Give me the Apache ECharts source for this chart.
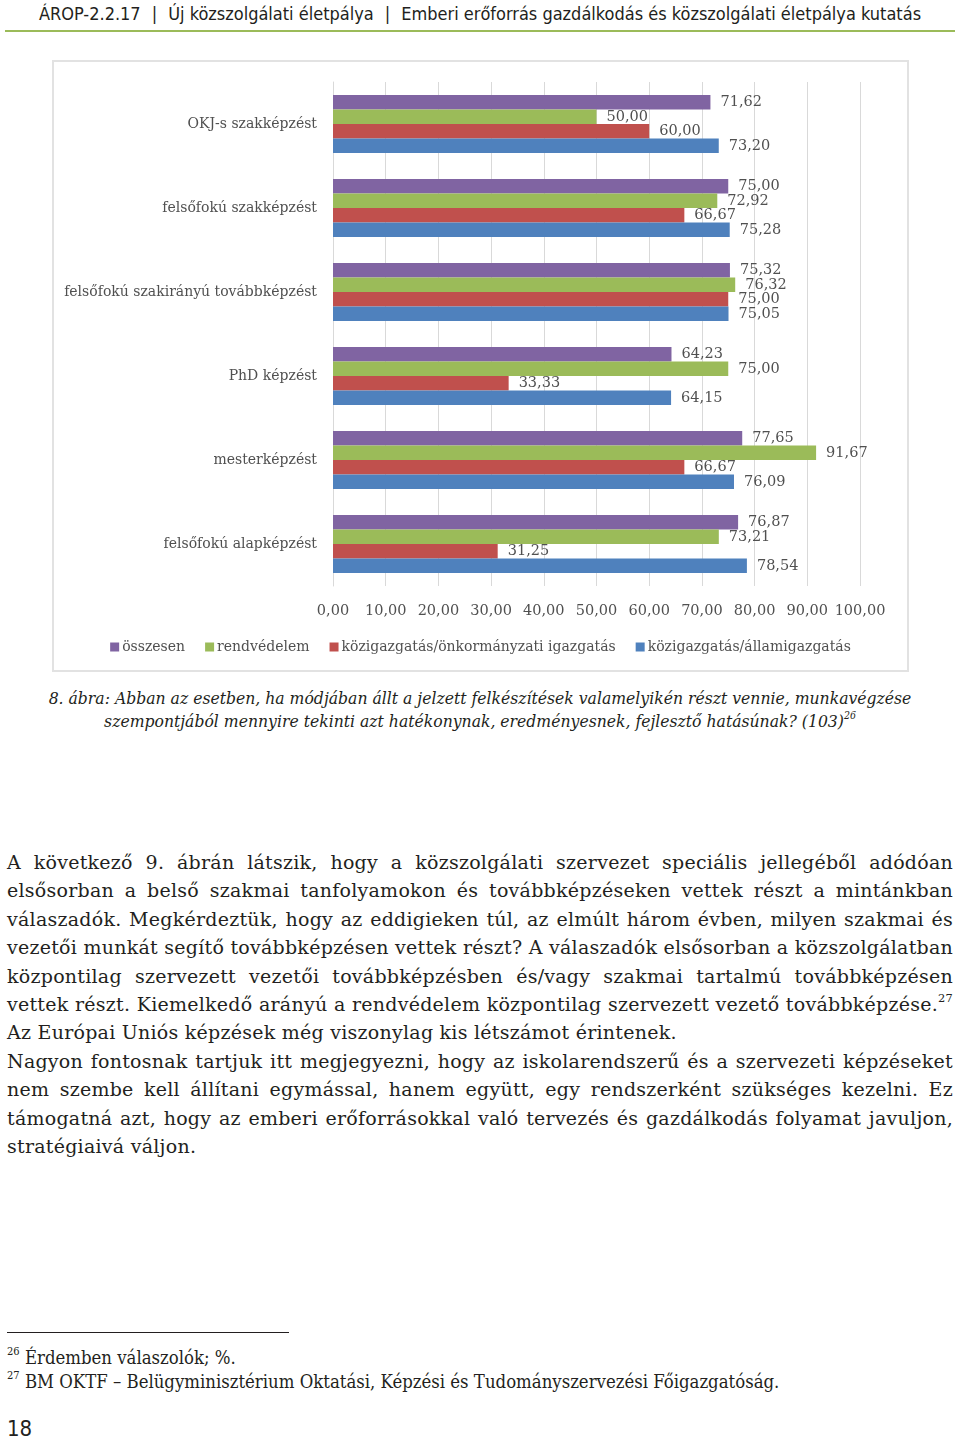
<!DOCTYPE html>
<html>
<head>
<meta charset="utf-8">
<script src="https://cdn.jsdelivr.net/npm/echarts@6/dist/echarts.min.js"></script>
<style>
  html, body { margin: 0; padding: 0; background: #fff; }
  body { width: 960px; height: 1439px; position: relative; overflow: hidden; color: #231f20; }
  .header { position: absolute; left: 0; top: 3px; width: 960px; text-align: center;
    font-family: "DejaVu Sans Condensed", "DejaVu Sans", sans-serif; font-size: 18px; color: #231f20; }
  .header .sep { margin: 0 11px; }
  .rule { position: absolute; left: 5px; top: 30px; width: 950px; height: 2px; background: #9bbb59; }
  #chart { position: absolute; left: 52px; top: 60px; width: 857px; height: 612px;
    box-sizing: border-box; border: 2px solid #e2e2e2; }
  .caption { position: absolute; left: 0; top: 687px; width: 960px; text-align: center;
    font-family: "DejaVu Serif Condensed", "DejaVu Serif", serif; font-style: italic;
    font-size: 17.4px; line-height: 23px; }
  .body { position: absolute; left: 7px; top: 848px; width: 946px;
    font-family: "DejaVu Serif", serif; font-size: 19px; letter-spacing: 0.25px; line-height: 28.4px; }
  .j { text-align: justify; text-align-last: justify; }
  sup { font-size: 60%; line-height: 0; vertical-align: 0.8em; }
  .fnrule { position: absolute; left: 7px; top: 1332px; width: 282px; height: 1px; background: #231f20; }
  .notes { position: absolute; left: 7px; top: 1346px; font-family: "DejaVu Serif Condensed", "DejaVu Serif", serif;
    font-size: 18.4px; line-height: 24px; }
  .page { position: absolute; left: 7px; top: 1416px; font-family: "DejaVu Sans Condensed", sans-serif; font-size: 22px; }
</style>
</head>
<body>
<div class="header">ÁROP-2.2.17<span class="sep">|</span>Új közszolgálati életpálya<span class="sep">|</span>Emberi erőforrás gazdálkodás és közszolgálati életpálya kutatás</div>
<div class="rule"></div>
<div id="chart"></div>
<div class="caption">8. ábra: Abban az esetben, ha módjában állt a jelzett felkészítések valamelyikén részt vennie, munkavégzése<br>szempontjából mennyire tekinti azt hatékonynak, eredményesnek, fejlesztő hatásúnak? (103)<sup>26</sup></div>
<div class="body">
  <div class="j">A következő 9. ábrán látszik, hogy a közszolgálati szervezet speciális jellegéből adódóan</div>
  <div class="j">elsősorban a belső szakmai tanfolyamokon és továbbképzéseken vettek részt a mintánkban</div>
  <div class="j">válaszadók. Megkérdeztük, hogy az eddigieken túl, az elmúlt három évben, milyen szakmai és</div>
  <div class="j">vezetői munkát segítő továbbképzésen vettek részt? A válaszadók elsősorban a közszolgálatban</div>
  <div class="j">központilag szervezett vezetői továbbképzésben és/vagy szakmai tartalmú továbbképzésen</div>
  <div class="j">vettek részt. Kiemelkedő arányú a rendvédelem központilag szervezett vezető továbbképzése.<sup>27</sup></div>
  <div>Az Európai Uniós képzések még viszonylag kis létszámot érintenek.</div>
  <div class="j">Nagyon fontosnak tartjuk itt megjegyezni, hogy az iskolarendszerű és a szervezeti képzéseket</div>
  <div class="j">nem szembe kell állítani egymással, hanem együtt, egy rendszerként szükséges kezelni. Ez</div>
  <div class="j">támogatná azt, hogy az emberi erőforrásokkal való tervezés és gazdálkodás folyamat javuljon,</div>
  <div>stratégiaivá váljon.</div>
</div>
<div class="fnrule"></div>
<div class="notes">
  <div><sup>26</sup> Érdemben válaszolók; %.</div>
  <div><sup>27</sup> BM OKTF – Belügyminisztérium Oktatási, Képzési és Tudományszervezési Főigazgatóság.</div>
</div>
<div class="page">18</div>

<script>
const categories = [
  'OKJ-s szakképzést',
  'felsőfokú szakképzést',
  'felsőfokú szakirányú továbbképzést',
  'PhD képzést',
  'mesterképzést',
  'felsőfokú alapképzést'
];
const seriesNames = [
  'összesen',
  'rendvédelem',
  'közigazgatás/önkormányzati igazgatás',
  'közigazgatás/államigazgatás'
];
const osszesen = [71.62, 75.00, 75.32, 64.23, 77.65, 76.87];
const rendvedelem = [50.00, 72.92, 76.32, 75.00, 91.67, 73.21];
const onkormanyzati = [60.00, 66.67, 75.00, 33.33, 66.67, 31.25];
const allami = [73.20, 75.28, 75.05, 64.15, 76.09, 78.54];
const colors = ['#8064a2', '#9bbb59', '#c0504d', '#4f81bd'];

const fmt = (v) => Number(v).toFixed(2).replace('.', ',');
const font = '"DejaVu Serif", serif';
const grey = '#505050';

const chart = echarts.init(document.getElementById('chart'));

const values = [osszesen, rendvedelem, onkormanyzati, allami];
const series = values.map((data, i) => ({
  name: seriesNames[i],
  type: 'bar',
  data: data,
  barGap: 0,
  barCategoryGap: '31%',
  itemStyle: { color: colors[i] },
  label: {
    show: true,
    position: 'right',
    distance: 10,
    color: grey,
    fontFamily: font,
    fontSize: 14.5,
    formatter: (p) => fmt(p.value)
  }
}));

chart.setOption({
  animation: false,
  color: colors,
  grid: { left: 279, right: 47, top: 20, bottom: 84, containLabel: false },
  legend: {
    bottom: 11,
    left: 'center',
    icon: 'rect',
    itemWidth: 9,
    itemHeight: 9,
    itemGap: 20,
    textStyle: { color: grey, fontFamily: font, fontSize: 14, padding: [0, 0, 0, -2] },
    data: seriesNames
  },
  xAxis: {
    type: 'value',
    min: 0,
    max: 100,
    interval: 10,
    axisLine: { show: false },
    axisTick: { show: false },
    splitLine: { lineStyle: { color: '#d9d9d9', width: 1 } },
    axisLabel: { color: grey, fontFamily: font, fontSize: 14.5, margin: 18, formatter: fmt }
  },
  yAxis: {
    type: 'category',
    inverse: true,
    data: categories,
    axisLine: { show: true, lineStyle: { color: '#d9d9d9' } },
    axisTick: { show: false },
    axisLabel: { color: grey, fontFamily: font, fontSize: 14, margin: 16 }
  },
  series: series
});
</script>
</body>
</html>
